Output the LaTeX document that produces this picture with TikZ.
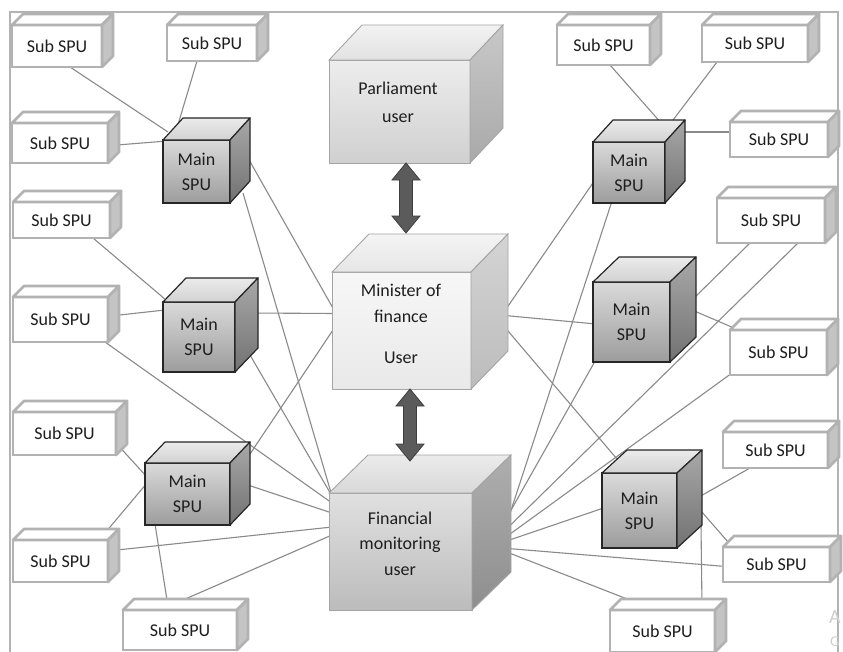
\documentclass[tikz,border=0pt]{standalone}
\usepackage{fontspec}
\setmainfont{Carlito}
\usetikzlibrary{calc,backgrounds}
\definecolor{framec}{HTML}{B3B3B3}
\definecolor{subedge}{HTML}{B2B2B2}
\definecolor{subsidec}{HTML}{C4C4C4}
\definecolor{linkc}{HTML}{8A8A8A}
\definecolor{txt}{HTML}{1E1E1E}
\definecolor{mfT}{HTML}{DADADA}
\definecolor{mfB}{HTML}{9C9C9C}
\definecolor{mtT}{HTML}{EBEBEB}
\definecolor{mtB}{HTML}{D2D2D2}
\definecolor{msT}{HTML}{A8A8A8}
\definecolor{msB}{HTML}{727272}
\definecolor{cedge}{HTML}{A4A4A4}
\definecolor{pfT}{HTML}{EDEDED}
\definecolor{pfB}{HTML}{D0D0D0}
\definecolor{ptT}{HTML}{F2F2F2}
\definecolor{ptB}{HTML}{E2E2E2}
\definecolor{psT}{HTML}{C8C8C8}
\definecolor{psB}{HTML}{A9A9A9}
\definecolor{nfT}{HTML}{F7F7F7}
\definecolor{nfB}{HTML}{E9E9E9}
\definecolor{ntT}{HTML}{F4F4F4}
\definecolor{ntB}{HTML}{E6E6E6}
\definecolor{nsT}{HTML}{D4D4D4}
\definecolor{nsB}{HTML}{BCBCBC}
\definecolor{ffT}{HTML}{E0E0E0}
\definecolor{ffB}{HTML}{BCBCBC}
\definecolor{ftT}{HTML}{EBEBEB}
\definecolor{ftB}{HTML}{D8D8D8}
\definecolor{fsT}{HTML}{AEAEAE}
\definecolor{fsB}{HTML}{8E8E8E}
\definecolor{arfill}{HTML}{5B5B5B}
\definecolor{ardraw}{HTML}{3E3E3E}
\definecolor{wmc}{HTML}{CFCFCF}
\tikzset{
  subfront/.style={rectangle, draw=subedge, line width=2.7pt, fill=white,
    inner sep=0pt, outer sep=0pt, anchor=north west, text=txt,
    font=\fontsize{18}{22}\selectfont},
  subtop/.style={draw=subedge, line width=2.7pt, fill=white, line join=round},
  subside/.style={draw=subedge, line width=2.7pt, fill=subsidec, line join=round},
  mainfront/.style={rectangle, draw=black!85, line width=1.2pt, top color=mfT,
    bottom color=mfB, inner sep=0pt, outer sep=0pt, anchor=north west,
    align=center, text=txt, font=\fontsize{18}{25}\selectfont},
  maintop/.style={draw=black!85, line width=1.2pt, top color=mtT, bottom color=mtB, line join=round},
  mainside/.style={draw=black!85, line width=1.2pt, top color=msT, bottom color=msB, line join=round},
  cenfront/.style={rectangle, draw=cedge, line width=0.9pt, inner sep=0pt,
    outer sep=0pt, anchor=north west},
  centext/.style={align=center, text=txt, inner sep=0pt},
  link/.style={draw=linkc, line width=1.1pt},
  blockar/.style={fill=arfill, draw=ardraw, line width=0.8pt, line join=miter},
  framel/.style={draw=framec, line width=2.5pt},
}
\newcommand\mkcube[5]{%
  \path[#4] (#1.north west) -- ++(#2,-#3) -- ($(#1.north east)+(#2,-#3)$) -- (#1.north east) -- cycle;
  \path[#5] (#1.north east) -- ++(#2,-#3) -- ($(#1.south east)+(#2,-#3)$) -- (#1.south east) -- cycle;
}
\newcommand\subbox[5]{% name, x, y, width, height
  \node[subfront, minimum width=#4pt, minimum height=#5pt] (#1) at (#2,#3) {Sub SPU};
  \mkcube{#1}{11}{11}{subtop}{subside}
}
\newcommand\mainbox[7]{% name, x, y, width, height, dx, dy
  \node[mainfront, minimum width=#4pt, minimum height=#5pt] (#1) at (#2,#3) {Main\\SPU};
  \mkcube{#1}{#6}{#7}{maintop}{mainside}
}
\newcommand\blockarrow[2]{%
  \filldraw[blockar] (#1) -- ($(#1)+(14,17)$) -- ($(#1)+(6.5,17)$) -- ($(#2)+(6.5,-17)$)
    -- ($(#2)+(14,-17)$) -- (#2) -- ($(#2)+(-14,-17)$) -- ($(#2)+(-6.5,-17)$)
    -- ($(#1)+(-6.5,17)$) -- ($(#1)+(-14,17)$) -- cycle;
}
\begin{document}
\begin{tikzpicture}[x=1pt,y=-1pt]
\useasboundingbox (0,0) rectangle (843,651);
\begin{scope}[on background layer]
\fill[white] (0,0) rectangle (843,651);
\end{scope}
% frame
\draw[framel] (10,660) -- (10,12) -- (838,12) -- (838,660);

% sub SPU boxes
\subbox{s1}{12}{25}{90}{42}
\subbox{s2}{167}{25}{90}{36}
\subbox{s3}{12}{123}{96}{40}
\subbox{s4}{13}{202}{97}{36}
\subbox{s5}{13}{297}{95}{45}
\subbox{s6}{13}{412}{103}{43}
\subbox{s7}{13}{540}{95}{42}
\subbox{s8}{123}{610}{114}{40}
\subbox{s9}{557}{25}{93}{40}
\subbox{s10}{702}{25}{106}{37}
\subbox{s11}{730}{122}{98}{35}
\subbox{s12}{717}{198}{108}{45}
\subbox{s13}{730}{330}{97}{45}
\subbox{s14}{723}{432}{105}{36}
\subbox{s15}{723}{547}{107}{35}
\subbox{s16}{610}{610}{105}{42}

% main SPU cubes
\mainbox{m1}{163}{140}{67}{63}{20}{22}
\mainbox{m2}{163}{302}{72}{70}{23}{24}
\mainbox{m3}{145}{463}{85}{62}{20}{21}
\mainbox{m4}{593}{142}{72}{61}{20}{22}
\mainbox{m5}{593}{282}{77}{80}{26}{25}
\mainbox{m6}{602}{473}{75}{75}{25}{23}

% central cubes
\node[cenfront, top color=pfT, bottom color=pfB, minimum width=141pt, minimum height=103pt] (parl) at (329,60) {};
\mkcube{parl}{33}{35}{draw=cedge, line width=0.9pt, top color=ptT, bottom color=ptB}{draw=cedge, line width=0.9pt, top color=psT, bottom color=psB}
\node[centext, font=\fontsize{18}{28}\selectfont] (parlT) at ($(parl.center)+(-1.5,-9)$) {Parliament\\user};

\node[cenfront, top color=nfT, bottom color=nfB, minimum width=139pt, minimum height=117pt] (mini) at (332,272) {};
\mkcube{mini}{37}{38}{draw=cedge, line width=0.9pt, top color=ntT, bottom color=ntB}{draw=cedge, line width=0.9pt, top color=nsT, bottom color=nsB}
\node[centext, font=\fontsize{18}{26}\selectfont] (miniT) at ($(mini.center)+(-0.5,-7)$) {Minister of\\finance\\[15pt]User};

\node[cenfront, top color=ffT, bottom color=ffB, minimum width=143pt, minimum height=117pt] (fin) at (329,493) {};
\mkcube{fin}{39}{38}{draw=cedge, line width=0.9pt, top color=ftT, bottom color=ftB}{draw=cedge, line width=0.9pt, top color=fsT, bottom color=fsB}
\node[centext, font=\fontsize{18}{25.5}\selectfont] (finT) at ($(fin.center)+(-0.5,-8)$) {Financial\\monitoring\\user};

% block arrows
\coordinate (a1t) at ($(parl.south)+(6.5,0)$);
\coordinate (a1b) at ($(mini.north)+(4.5,-39)$);
\coordinate (a2t) at ($(mini.south)+(8.5,0)$);
\coordinate (a2b) at ($(fin.north)+(9.5,-32)$);
\blockarrow{a1t}{a1b}
\blockarrow{a2t}{a2b}

% watermark remnants
\node[anchor=west, text=wmc, inner sep=0pt, font=\fontsize{20}{20}\selectfont] (wmA) at (829,617) {A};
\node[anchor=west, text=wmc, inner sep=0pt, font=\fontsize{15}{15}\selectfont] (wmG) at (830,642) {G};

% connectors
\begin{scope}[on background layer]
\draw[link] ($(s1.south west)+(58,0)$) -- ($(m1.north west)+(5,-8)$);
\draw[link] ($(s2.south west)+(30,0)$) -- ($(m1.north west)+(14,-12)$);
\draw[link] ($(s3.east)+(9,2)$) -- ($(m1.north west)+(4,1)$);
\draw[link] ($(s4.south west)+(80,0)$) -- ($(m2.north west)+(3,-2)$);
\draw[link] ($(s5.east)+(7,-4)$) -- ($(m2.north west)+(2,8)$);
\draw[link] ($(s6.south east)+(-1,-13)$) -- ($(m3.north west)+(2,14)$);
\draw[link] ($(m3.north west)+(2,20)$) -- ($(s7.north east)+(-3,-7)$);
\draw[link] ($(m3.south west)+(10,-1)$) -- ($(s8.north west)+(44,-10)$);
\draw[link] ($(m1.north east)+(18,18)$) -- ($(mini.west)+(4,-17)$);
\draw[link] ($(m1.south east)+(13,-10)$) -- ($(fin.north west)+(3,3)$);
\draw[link] ($(m2.east)+(15,-24)$) -- ($(mini.west)+(4,-17)$);
\draw[link] ($(m2.south east)+(15,-17)$) -- ($(fin.north west)+(3,3)$);
\draw[link] ($(mini.west)+(4,-5)$) -- ($(m3.north east)+(18,-6)$);
\draw[link] ($(s5.south east)+(-3,0)$) -- ($(fin.north west)+(3,10)$);
\draw[link] ($(m3.east)+(18,-9)$) -- ($(fin.north west)+(3,20)$);
\draw[link] ($(s7.east)+(9,-11)$) -- ($(fin.north west)+(3,34)$);
\draw[link] ($(s8.north west)+(60,-10)$) -- ($(fin.north west)+(3,42)$);
\draw[link] ($(s9.south west)+(53,0)$) -- ($(m4.north west)+(69,-18)$);
\draw[link] ($(s10.south west)+(15,0)$) -- ($(m4.north west)+(77,-18)$);
\draw[link] ($(m4.north east)+(18,-10)$) -- ($(s11.north west)+(3,10)$);
\draw[link] ($(m4.west)+(3,6)$) -- ($(mini.east)+(34,-20)$);
\draw[link] ($(m4.south west)+(19,-2)$) -- ($(fin.east)+(36,-32)$);
\draw[link] ($(mini.east)+(34,-15)$) -- ($(m5.west)+(3,2)$);
\draw[link] ($(mini.east)+(34,-3)$) -- ($(m6.north west)+(15,-14)$);
\draw[link] ($(m5.south west)+(10,-15)$) -- ($(fin.east)+(36,-36)$);
\draw[link] ($(s12.south west)+(33,0)$) -- ($(m5.north east)+(22,18)$);
\draw[link] ($(s12.south west)+(81,0)$) -- ($(fin.east)+(36,-24)$);
\draw[link] ($(m5.north east)+(22,28)$) -- ($(s13.north west)+(4,-2)$);
\draw[link] ($(s13.south west)+(2,-2)$) -- ($(fin.east)+(36,-16)$);
\draw[link] ($(m6.west)+(3,-3)$) -- ($(fin.east)+(36,-11)$);
\draw[link] ($(m6.east)+(21,-13)$) -- ($(s14.south west)+(27,0)$);
\draw[link] ($(m6.east)+(21,-3)$) -- ($(s15.north west)+(5,-5)$);
\draw[link] ($(m6.east)+(24,15)$) -- ($(s16.north east)+(-13,-4)$);
\draw[link] ($(fin.east)+(36,-3)$) -- ($(s15.west)+(3,2)$);
\draw[link] ($(fin.east)+(36,1)$) -- ($(s16.north west)+(30,-6)$);
\end{scope}
\end{tikzpicture}
\end{document}
